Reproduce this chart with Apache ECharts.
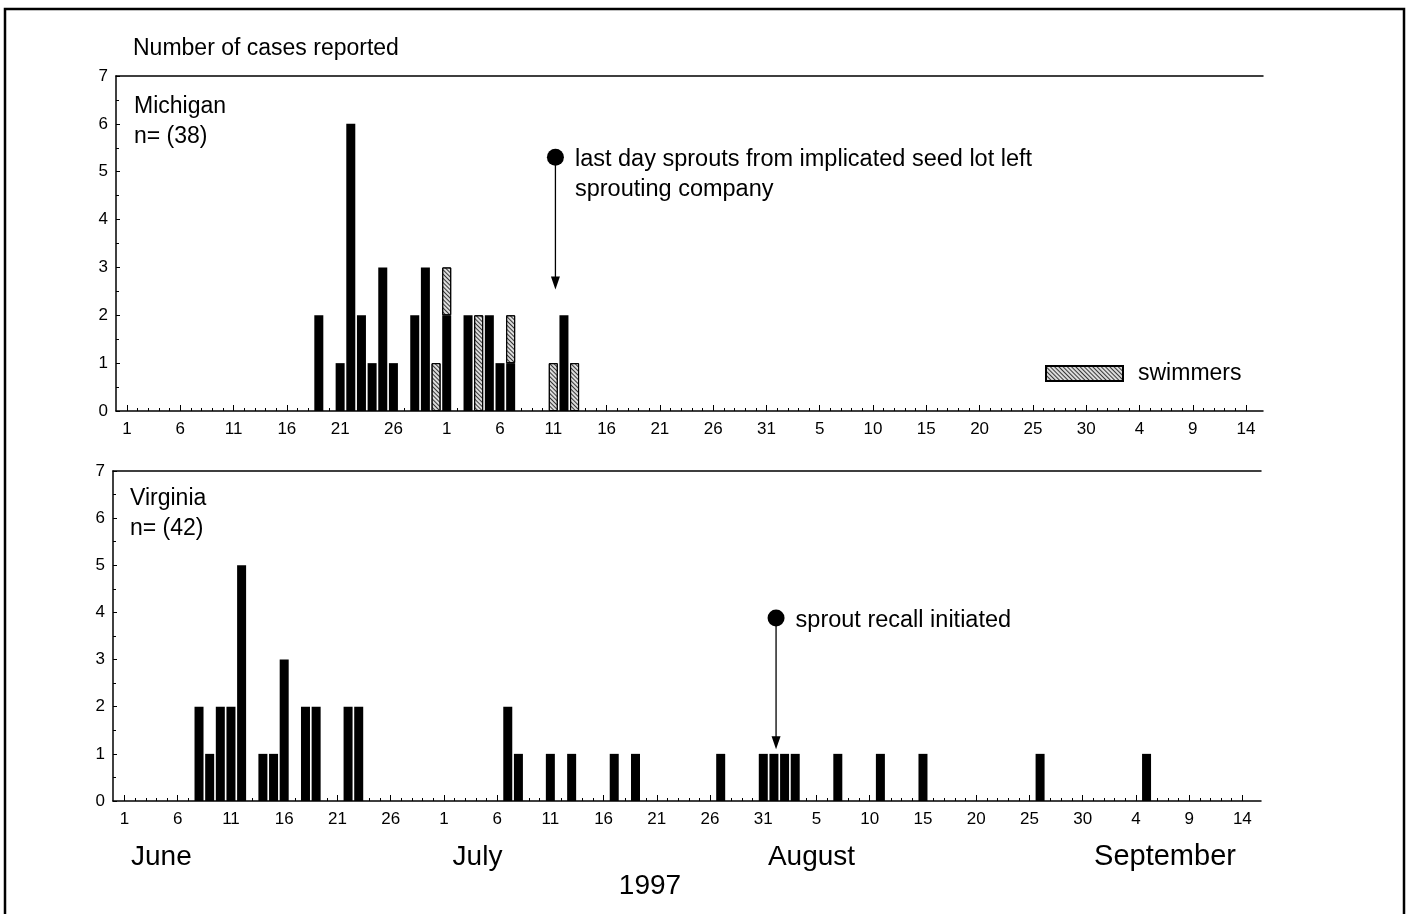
<!DOCTYPE html>
<html>
<head>
<meta charset="utf-8">
<script src="https://cdn.jsdelivr.net/npm/echarts@6/dist/echarts.min.js"></script>
<style>
html,body{margin:0;padding:0;background:#fff;}
#c{width:1409px;height:914px;}
</style>
</head>
<body>
<div id="c"></div>
<script>
// ---------------- data ----------------
const michiganDates = ['06-19','06-21','06-22','06-23','06-24','06-25','06-26','06-28','06-29','07-01','07-03','07-05','07-06','07-07','07-12'];
const michiganCases = [2,1,6,2,1,3,1,2,3,2,2,2,1,1,2];
const swimmerDates  = ['06-30','07-01','07-04','07-07','07-11','07-13'];
const swimmerCases  = [1,1,2,1,1,1];
const virginiaDates = ['06-08','06-09','06-10','06-11','06-12','06-14','06-15','06-16','06-18','06-19','06-22','06-23',
                       '07-07','07-08','07-11','07-13','07-17','07-19','07-27','07-31','08-01','08-02','08-03',
                       '08-07','08-11','08-15','08-26','09-05'];
const virginiaCases = [2,1,2,2,5,1,1,3,2,2,2,2, 2,1,1,1,1,1,1,1,1,1,1, 1,1,1,1,1];
const tickDays   = [0,5,10,15,20,25,30,35,40,45,50,55,60,65,70,75,80,85,90,95,100,105];
const tickLabels = ['1','6','11','16','21','26','1','6','11','16','21','26','31','5','10','15','20','25','30','4','9','14'];
const monthLabels = ['June','July','August','September'];
const yearLabel = '1997';
const michiganNote = {day: 40.2, from: 5.3, to: 2.54, text: 'last day sprouts from implicated seed lot left\nsprouting company'};
const virginiaNote = {day: 61.2, from: 3.88, to: 1.1, text: 'sprout recall initiated'};
// ---------------------------------------

const FONT = '"Liberation Sans", Arial, Helvetica, sans-serif';
const BASE = Date.UTC(1997, 5, 1);
const DAYS = 105;
function dayIdx(s) {
  const p = s.split('-').map(Number);
  return Math.round((Date.UTC(1997, p[0] - 1, p[1]) - BASE) / 864e5);
}
// items are [cases, day] so that the stacked dimension is the value (y) dimension
function toSeries(dates, vals) {
  const m = {};
  dates.forEach((d, i) => { m[dayIdx(d)] = vals[i]; });
  const out = [];
  for (let i = 0; i <= DAYS; i++) out.push([m[i] != null ? m[i] : '-', i]);
  return out;
}
const allDays = [];
for (let i = 0; i <= DAYS; i++) allDays.push(i);
function tickFmt(v) {
  const k = tickDays.indexOf(Math.round(v));
  return k >= 0 ? tickLabels[k] : '';
}

const grids = [
  {left: 116, top: 76, width: 1147, height: 335, min: -1.03, max: 106.59},
  {left: 113, top: 471, width: 1148, height: 330, min: -1.08, max: 106.75}
];

const xAxes = [], yAxes = [];
grids.forEach((g, gi) => {
  xAxes.push({
    type: 'value', gridIndex: gi, min: g.min, max: g.max, position: 'bottom',
    axisLine: {show: true, onZero: false, lineStyle: {color: '#000', width: 1.5}},
    axisTick: {show: true, inside: true, length: 6, customValues: tickDays, lineStyle: {color: '#000', width: 1}},
    axisLabel: {show: true, customValues: tickDays, formatter: tickFmt, margin: 10, color: '#000', fontSize: 17, fontFamily: FONT},
    splitLine: {show: false}
  });
  xAxes.push({
    type: 'value', gridIndex: gi, min: g.min, max: g.max, position: 'bottom',
    axisLine: {show: false, onZero: false},
    axisTick: {show: true, inside: true, length: 3, customValues: allDays, lineStyle: {color: '#000', width: 1}},
    axisLabel: {show: false},
    splitLine: {show: false}
  });
  xAxes.push({
    type: 'value', gridIndex: gi, min: g.min, max: g.max, position: 'top',
    axisLine: {show: true, onZero: false, lineStyle: {color: '#000', width: 1.5}},
    axisTick: {show: false}, axisLabel: {show: false}, splitLine: {show: false}
  });
  yAxes.push({
    type: 'value', gridIndex: gi, min: 0, max: 7, interval: 1,
    axisLine: {show: true, onZero: false, lineStyle: {color: '#000', width: 1.5}},
    axisTick: {show: true, inside: true, length: 4, lineStyle: {color: '#000'}},
    minorTick: {show: true, splitNumber: 2, length: 3, lineStyle: {color: '#000'}},
    axisLabel: {margin: 8, color: '#000', fontSize: 17, fontFamily: FONT},
    splitLine: {show: false}
  });
});

function noteRenderer(note) {
  return function (params, api) {
    const p0 = api.coord([api.value(0), api.value(1)]);
    const p1 = api.coord([api.value(0), api.value(2)]);
    const head = 13, hw = 4.5, r = 8.5;
    return {
      type: 'group',
      children: [
        {type: 'line', shape: {x1: p0[0], y1: p0[1], x2: p1[0], y2: p1[1] - head + 1}, style: {stroke: '#000', lineWidth: 1.3}},
        {type: 'polygon', shape: {points: [[p1[0] - hw, p1[1] - head], [p1[0] + hw, p1[1] - head], [p1[0], p1[1]]]}, style: {fill: '#000'}},
        {type: 'circle', shape: {cx: p0[0], cy: p0[1], r: r}, style: {fill: '#000'}},
        {type: 'text', x: p0[0] + 19.5, y: p0[1] - 15 + 2,
          style: {text: note.text, fill: '#000', font: '23.5px ' + FONT, lineHeight: 30, verticalAlign: 'top', align: 'left'}}
      ]
    };
  };
}

const barEncode = {x: 1, y: 0};
const option = {
  animation: false,
  backgroundColor: '#fff',
  grid: grids.map(g => ({left: g.left, top: g.top, width: g.width, height: g.height, containLabel: false})),
  xAxis: xAxes,
  yAxis: yAxes,
  legend: {
    data: ['swimmers'], left: 1045, top: 362, padding: 0, icon: 'rect',
    itemWidth: 77, itemHeight: 15, selectedMode: false,
    textStyle: {fontSize: 23, color: '#000', fontFamily: FONT, padding: [0, 0, 0, 10]}
  },
  series: [
    {
      name: 'Michigan', type: 'bar', xAxisIndex: 0, yAxisIndex: 0, stack: 'mi', barWidth: 9, encode: barEncode,
      itemStyle: {color: '#000'}, data: toSeries(michiganDates, michiganCases)
    },
    {
      name: 'swimmers', type: 'bar', xAxisIndex: 0, yAxisIndex: 0, stack: 'mi', barWidth: 9, encode: barEncode,
      itemStyle: {
        color: '#dcdcdc', borderColor: '#000', borderWidth: 1,
        decal: {symbol: 'rect', symbolSize: 1, color: 'rgba(0,0,0,0.75)', dashArrayX: [1, 0], dashArrayY: [1, 2], rotation: Math.PI / 4}
      },
      data: toSeries(swimmerDates, swimmerCases)
    },
    {
      name: 'Virginia', type: 'bar', xAxisIndex: 3, yAxisIndex: 1, barWidth: 9, encode: barEncode,
      itemStyle: {color: '#000'}, data: toSeries(virginiaDates, virginiaCases)
    },
    {
      name: 'noteMI', type: 'custom', xAxisIndex: 0, yAxisIndex: 0, clip: false, silent: true,
      renderItem: noteRenderer(michiganNote), data: [[michiganNote.day, michiganNote.from, michiganNote.to]]
    },
    {
      name: 'noteVA', type: 'custom', xAxisIndex: 3, yAxisIndex: 1, clip: false, silent: true,
      renderItem: noteRenderer(virginiaNote), data: [[virginiaNote.day, virginiaNote.from, virginiaNote.to]]
    }
  ],
  graphic: [
    {type: 'rect', silent: true, shape: {x: 5, y: 9, width: 1399, height: 1000}, style: {fill: 'none', stroke: '#000', lineWidth: 2.5}},
    {type: 'text', left: 133, top: 37, style: {text: 'Number of cases reported', fill: '#000', font: '23px ' + FONT}},
    {type: 'text', left: 134, top: 92, style: {text: 'Michigan\nn= (38)', fill: '#000', font: '23px ' + FONT, lineHeight: 30}},
    {type: 'text', left: 130, top: 484, style: {text: 'Virginia\nn= (42)', fill: '#000', font: '23px ' + FONT, lineHeight: 30}},
    {type: 'text', x: 131, y: 857, style: {text: monthLabels[0], fill: '#000', font: '28px ' + FONT, align: 'left', verticalAlign: 'middle'}},
    {type: 'text', x: 477.5, y: 857, style: {text: monthLabels[1], fill: '#000', font: '28px ' + FONT, align: 'center', verticalAlign: 'middle'}},
    {type: 'text', x: 811.5, y: 857, style: {text: monthLabels[2], fill: '#000', font: '28px ' + FONT, align: 'center', verticalAlign: 'middle'}},
    {type: 'text', x: 1165, y: 857, style: {text: monthLabels[3], fill: '#000', font: '29px ' + FONT, align: 'center', verticalAlign: 'middle'}},
    {type: 'text', x: 650, y: 886, style: {text: yearLabel, fill: '#000', font: '28px ' + FONT, align: 'center', verticalAlign: 'middle'}}
  ]
};

const chart = echarts.init(document.getElementById('c'), null, {renderer: 'canvas'});
chart.setOption(option);
</script>
</body>
</html>
